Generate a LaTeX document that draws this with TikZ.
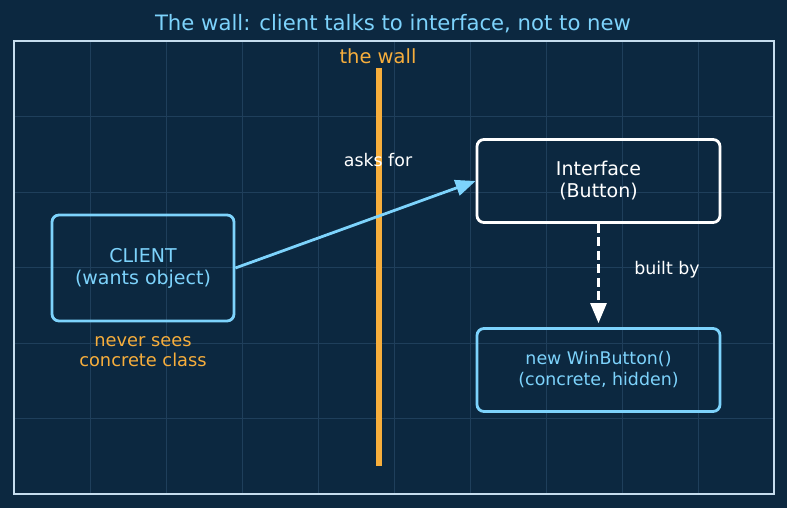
\documentclass[tikz,border=0pt]{standalone}
\usepackage{fontspec}
\setmainfont{DejaVu Sans}
\usetikzlibrary{arrows.meta, positioning}

\definecolor{bgnavy}{HTML}{0C2840}
\definecolor{gridblue}{HTML}{1F3F5B}
\definecolor{framecol}{HTML}{C6DDEE}
\definecolor{skyblue}{HTML}{7DD3FC}
\definecolor{wallorange}{HTML}{F7AE3C}

\begin{document}
\begin{tikzpicture}[x=1pt, y=-1pt, >={Triangle[length=20pt, width=16pt]},
  box/.style={draw, rounded corners=7pt, line width=2.8pt, align=center,
    font=\fontsize{19}{22}\selectfont},
  lbl/.style={font=\fontsize{17.4}{20}\selectfont, align=center}]
  % background, grid and frame
  \fill[bgnavy] (0,0) rectangle (787,508);
  \foreach \gx in {90,166,...,698}
    \draw[gridblue, line width=0.8pt] (\gx,41) -- (\gx,494);
  \foreach \gy in {116.5,192,...,420}
    \draw[gridblue, line width=0.8pt] (14,\gy) -- (774,\gy);
  \draw[framecol, line width=1.6pt] (14,41) rectangle (774,494);

  \node[text=skyblue, font=\fontsize{21.2}{24}\selectfont] (title) at (393,24)
    {The wall: client talks to interface, not to new};

  % the wall
  \coordinate (walltop) at (379,68);
  \coordinate (wallbot) at (379,466);
  \draw[wallorange, line width=5.5pt] (walltop) -- (wallbot);
  \node[lbl, text=wallorange, font=\fontsize{19.5}{22}\selectfont] (walllbl) at (378,56) {the wall};

  % boxes
  \node[box, draw=skyblue, text=skyblue, minimum width=182pt, minimum height=106pt]
    (client) at (143,268) {CLIENT\\(wants object)};
  \node[box, draw=white, text=white, minimum width=243pt, minimum height=83pt]
    (iface) at (598.5,181) {Interface\\(Button)};
  \node[box, draw=skyblue, text=skyblue, minimum width=243pt, minimum height=83pt,
    font=\fontsize{17.4}{21}\selectfont]
    (winbtn) at (598.5,370) {new WinButton()\\(concrete, hidden)};
  \node[lbl, text=wallorange, font=\fontsize{17.8}{20}\selectfont, below=11pt of client]
    (never) {never sees\\concrete class};

  % connectors
  \draw[->, skyblue, line width=2.8pt] (client.east) -- (iface.west);
  \node[lbl, text=white] (asks) at (378,160) {asks for};
  \draw[->, white, line width=2.8pt, dash pattern=on 9pt off 4.5pt, shorten >=4pt]
    (iface.south) -- (winbtn.north);
  \node[lbl, text=white] (built) at (667,270) {built by};
\end{tikzpicture}
\end{document}
